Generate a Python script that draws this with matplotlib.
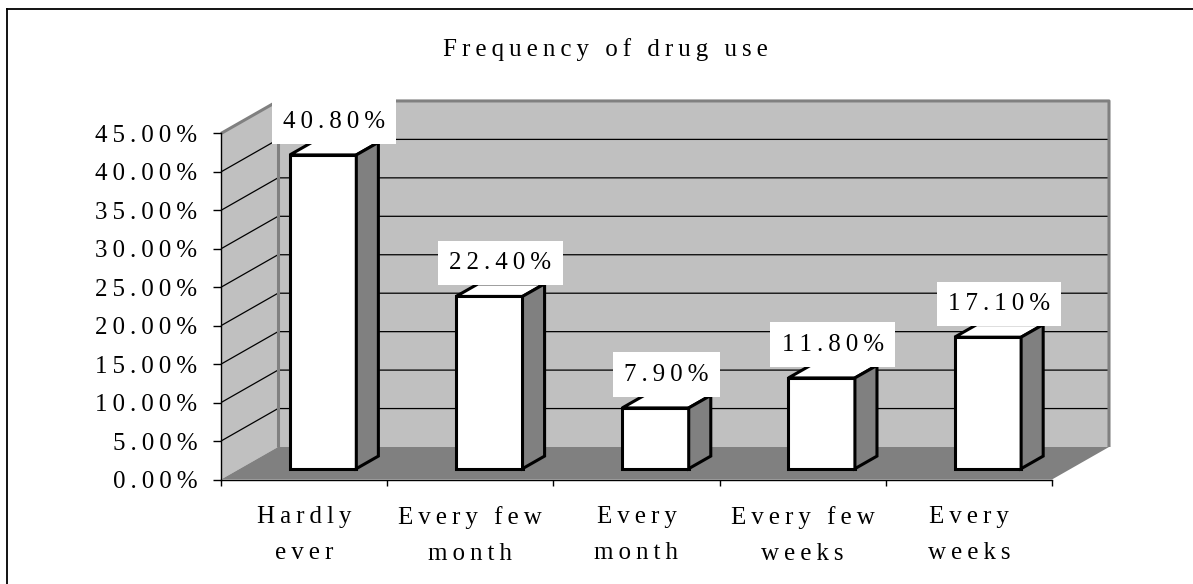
import matplotlib.pyplot as plt
from matplotlib.patches import Polygon
from matplotlib.lines import Line2D

categories = ["Hardly\never", "Every few\nmonth", "Every\nmonth",
              "Every few\nweeks", "Every\nweeks"]
shares = [40.8, 22.4, 7.9, 11.8, 17.1]
y_ticks = [0, 5, 10, 15, 20, 25, 30, 35, 40, 45]
title = "Frequency of drug use"

W, H = 1193, 584
# front plane of the Excel style 3D box, in pixels
LEFT, BASE = 221, 479.5
CAT_PX, PCT_PX = 166.2, 7.69
DEPTH = (57 / CAT_PX, 32.5 / PCT_PX)   # back wall offset in data units
Z_FRONT, Z_BACK = 0.333, 0.72
BAR_W = 0.4

WALL = "#c0c0c0"
DARK = "#808080"
FONT = ["Liberation Serif", "DejaVu Serif"]
FS = 18


def spaced(s):
    """Excel draws this chart with wide letter spacing."""
    return "\u2009".join(s)


def proj(x, y, z):
    return (x + z * DEPTH[0], y + z * DEPTH[1])


def poly(ax, pts, **kw):
    ax.add_patch(Polygon(pts, closed=True, clip_on=False, **kw))


def line(ax, pts, **kw):
    xs, ys = zip(*pts)
    ax.plot(xs, ys, clip_on=False, solid_capstyle="butt", **kw)


def main():
    n = len(categories)
    ymax = y_ticks[-1]

    fig = plt.figure(figsize=(W / 100, H / 100), dpi=100)
    ax = fig.add_axes([LEFT / W, (H - BASE) / H,
                       n * CAT_PX / W, ymax * PCT_PX / H])
    ax.set_xlim(-0.5, n - 0.5)
    ax.set_ylim(0, ymax)
    ax.patch.set_visible(False)
    for s in ("top", "right"):
        ax.spines[s].set_visible(False)
    for s in ("left", "bottom"):
        ax.spines[s].set_linewidth(1.0)
        ax.spines[s].set_zorder(4)

    x0, x1 = -0.5, n - 0.5
    # walls and floor
    poly(ax, [proj(x0, 0, 0), proj(x0, ymax, 0), proj(x0, ymax, 1), proj(x0, 0, 1)],
         fc=WALL, ec="none", zorder=0.5)
    poly(ax, [proj(x0, 0, 1), proj(x0, ymax, 1), proj(x1, ymax, 1), proj(x1, 0, 1)],
         fc=WALL, ec="none", zorder=0.5)
    poly(ax, [proj(x0, 0, 0), proj(x1, 0, 0), proj(x1, 0, 1), proj(x0, 0, 1)],
         fc=DARK, ec="none", zorder=0.6)
    for v in y_ticks[1:-1]:
        line(ax, [proj(x0, v, 0), proj(x0, v, 1), proj(x1, v, 1)],
             color="black", lw=0.9, zorder=0.7)
    line(ax, [proj(x0, ymax, 0), proj(x0, ymax, 1), proj(x1, ymax, 1), proj(x1, 0, 1)],
         color=DARK, lw=2.2, zorder=0.8)
    line(ax, [proj(x0, 0, 1), proj(x0, ymax, 1)], color=DARK, lw=2.2, zorder=0.8)

    # bars
    for i, v in enumerate(shares):
        a, b = i - BAR_W / 2, i + BAR_W / 2
        style = dict(ec="black", lw=2.2, joinstyle="miter", zorder=3)
        poly(ax, [proj(a, 0, Z_FRONT), proj(b, 0, Z_FRONT),
                  proj(b, v, Z_FRONT), proj(a, v, Z_FRONT)], fc="white", **style)
        poly(ax, [proj(a, v, Z_FRONT), proj(b, v, Z_FRONT),
                  proj(b, v, Z_BACK), proj(a, v, Z_BACK)], fc="white", **style)
        poly(ax, [proj(b, 0, Z_FRONT), proj(b, 0, Z_BACK),
                  proj(b, v, Z_BACK), proj(b, v, Z_FRONT)], fc=DARK, **style)
        zmid = (Z_FRONT + Z_BACK) / 2
        ax.annotate(spaced(f"{v:.2f}%"), xy=proj(i, v, zmid),
                    xytext=(0, 19.5), textcoords="offset points",
                    ha="center", va="center", fontsize=FS, family=FONT,
                    bbox=dict(boxstyle="square,pad=0.45", fc="white", ec="none"),
                    zorder=6, annotation_clip=False)

    # axes ticks and labels
    ax.set_yticks(y_ticks)
    ax.set_yticklabels([spaced(f"{v:.2f}%") for v in y_ticks])
    ax.tick_params(axis="y", direction="out", length=6, width=1.0, pad=11,
                   labelsize=FS, labelfontfamily=FONT)
    ax.set_xticks([k - 0.5 for k in range(n + 1)])
    ax.set_xticklabels([])
    ax.tick_params(axis="x", which="major", direction="out", length=4.5, width=1.0)
    ax.set_xticks(range(n), minor=True)
    ax.set_xticklabels(["\n".join(spaced(p) for p in c.split("\n")) for c in categories],
                       minor=True)
    ax.tick_params(axis="x", which="minor", length=0, pad=19,
                   labelsize=FS, labelfontfamily=FONT)
    for t in ax.get_xticklabels(minor=True):
        t.set_linespacing(1.85)

    fig.text(605 / W, 1 - 56 / H, spaced(title), ha="center", va="baseline",
             fontsize=FS, family=FONT)

    # outer chart frame (only top and left edges are inside the picture)
    fig.add_artist(Line2D([7.5 / W, 1], [1 - 8.5 / H, 1 - 8.5 / H],
                          color="black", lw=1.3))
    fig.add_artist(Line2D([7.5 / W, 7.5 / W], [0, 1 - 8.5 / H],
                          color="black", lw=1.3))

    fig.savefig("out.png", dpi=100)


if __name__ == "__main__":
    main()
